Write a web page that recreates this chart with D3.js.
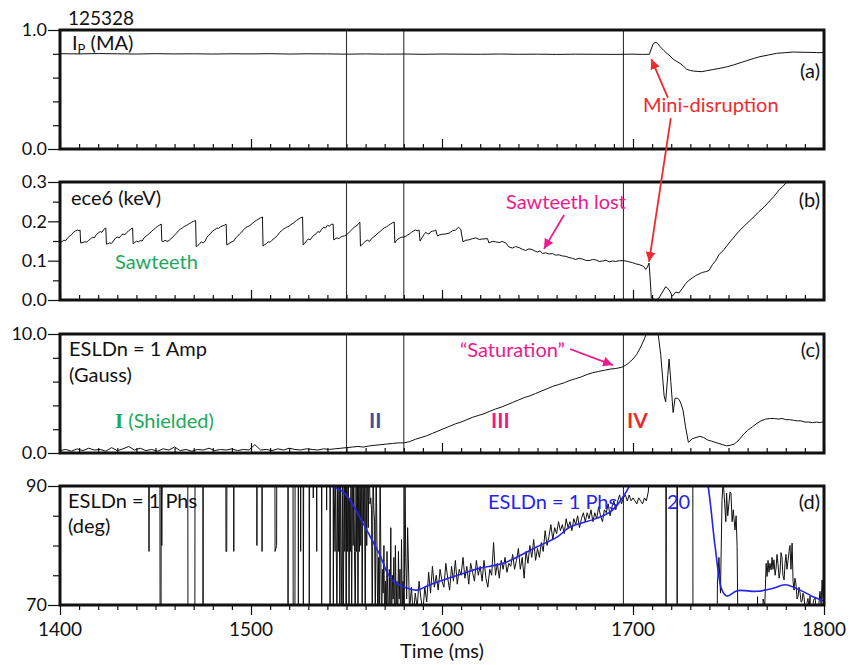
<!DOCTYPE html>
<html><head><meta charset="utf-8">
<script src="https://cdn.jsdelivr.net/npm/d3@7"></script>
<style>
body{margin:0;background:#fff}
text{font-family:Lato,"Open Sans",sans-serif;fill:#111}
</style>
</head><body>
<svg id="chart" width="856" height="665"></svg>
<script>
// ---------------- DATA ----------------
const shotNumber = "125328";
const timeDomain = [1400, 1800];
const timeTickLabels = [1400, 1500, 1600, 1700, 1800];
const eventTimes = [1550, 1580, 1695];

// (a) plasma current Ip (MA)
const ipData = [[1400,0.801],[1410,0.799],[1420,0.802],[1430,0.800],[1440,0.798],[1450,0.801],[1460,0.799],[1470,0.800],[1480,0.798],[1490,0.800],
[1500,0.799],[1510,0.801],[1520,0.798],[1530,0.800],[1540,0.799],[1550,0.797],[1560,0.799],[1570,0.797],[1580,0.798],[1590,0.796],
[1600,0.798],[1610,0.797],[1620,0.796],[1630,0.798],[1640,0.796],[1650,0.797],[1660,0.795],[1670,0.797],[1680,0.796],[1690,0.795],
[1700,0.797],[1705,0.795],[1708.6,0.796],[1709.5,0.84],[1710.7,0.888],[1712.1,0.896],[1713,0.885],[1714.2,0.86],[1716,0.83],[1717.7,0.804],
[1719.5,0.78],[1721.1,0.754],[1723,0.735],[1724.6,0.72],[1726.5,0.695],[1728.1,0.67],[1730,0.66],[1731.6,0.655],[1734,0.652],[1736,0.65],
[1738.6,0.658],[1742,0.668],[1745.6,0.678],[1749,0.69],[1752.6,0.706],[1756,0.724],[1759.5,0.742],[1763,0.76],[1766.5,0.776],[1771,0.79],
[1775.2,0.804],[1780,0.81],[1784,0.815],[1788,0.813],[1792.7,0.812],[1796,0.81],[1800,0.81]];

// (b) ece6 electron temperature (keV)
const eceData = [[1400,0.150],[1401,0.148],[1402,0.152],[1403,0.151],[1404,0.158],[1405,0.162],[1406,0.166],[1407,0.172],[1408,0.175],[1409,0.178],[1410,0.176],[1410.5,0.178],[1410.8,0.145],
[1412,0.146],[1413,0.148],[1414,0.147],[1415,0.152],[1416,0.155],[1417,0.160],[1418,0.158],[1419,0.166],[1420,0.170],[1421,0.174],[1422,0.172],[1423,0.180],[1424,0.183],[1424.3,0.142],
[1425,0.143],[1426,0.145],[1427,0.144],[1428,0.150],[1429,0.157],[1430,0.160],[1431,0.158],[1432,0.164],[1433,0.168],[1434,0.166],[1435,0.172],[1436,0.176],[1437,0.180],[1438,0.183],[1438.3,0.143],
[1439,0.145],[1440,0.150],[1441,0.148],[1442,0.151],[1443,0.150],[1444,0.158],[1445,0.162],[1446,0.166],[1447,0.170],[1448,0.175],[1449,0.179],[1450,0.183],[1451,0.187],[1452,0.190],[1453,0.193],[1453.3,0.150],
[1454,0.148],[1455,0.152],[1456,0.149],[1457,0.151],[1458,0.155],[1459,0.160],[1460,0.165],[1461,0.170],[1462,0.176],[1463,0.180],[1464,0.183],[1465,0.187],[1466,0.189],[1467,0.192],[1468,0.195],[1469,0.198],[1470,0.200],[1471,0.202],[1471.3,0.136],
[1472,0.138],[1473,0.142],[1474,0.148],[1475,0.145],[1476,0.150],[1477,0.160],[1478,0.165],[1479,0.170],[1480,0.176],[1481,0.178],[1482,0.183],[1483,0.182],[1484,0.186],[1485,0.188],[1486,0.190],[1487,0.193],[1487.3,0.140],
[1488,0.142],[1489,0.145],[1490,0.148],[1491,0.150],[1492,0.158],[1493,0.162],[1494,0.168],[1495,0.172],[1496,0.178],[1497,0.183],[1498,0.186],[1499,0.188],[1500,0.192],[1501,0.196],[1502,0.200],[1503,0.203],[1504,0.206],[1505,0.209],[1506,0.211],[1506.3,0.137],
[1507,0.140],[1508,0.143],[1509,0.148],[1510,0.147],[1511,0.152],[1512,0.156],[1513,0.160],[1514,0.165],[1515,0.172],[1516,0.176],[1517,0.180],[1518,0.183],[1519,0.186],[1520,0.188],[1521,0.192],[1522,0.195],[1523,0.199],[1524,0.203],[1525,0.206],[1526,0.209],[1527,0.211],[1527.3,0.140],
[1528,0.143],[1529,0.150],[1530,0.155],[1531,0.153],[1532,0.160],[1533,0.165],[1534,0.168],[1535,0.174],[1536,0.172],[1537,0.180],[1538,0.185],[1539,0.183],[1540,0.190],[1541,0.188],[1542,0.192],[1543,0.193],[1543.3,0.153],
[1544,0.155],[1545,0.158],[1546,0.156],[1547,0.160],[1548,0.162],[1549,0.163],[1550,0.166],[1551,0.170],[1552,0.175],[1553,0.180],[1554,0.185],[1555,0.188],[1556,0.192],[1557,0.198],[1557.3,0.137],
[1558,0.140],[1559,0.145],[1560,0.150],[1561,0.152],[1562,0.149],[1563,0.155],[1564,0.160],[1565,0.163],[1566,0.168],[1567,0.172],[1568,0.176],[1569,0.180],[1570,0.184],[1571,0.186],[1572,0.190],[1573,0.193],[1574,0.196],[1575,0.198],[1575.3,0.145],
[1576,0.150],[1577,0.155],[1578,0.158],[1579,0.160],[1580,0.160],[1581,0.162],[1582,0.165],[1583,0.168],[1584,0.172],[1585,0.175],[1586,0.178],[1587,0.176],[1588,0.178],[1588.5,0.150],
[1589.5,0.158],[1590.5,0.166],[1591.5,0.172],[1592.3,0.169],[1593.2,0.168],[1594,0.173],[1595,0.175],[1596,0.176],[1596.7,0.178],[1597.6,0.163],[1599,0.166],[1600.2,0.167],[1602,0.168],[1603.7,0.170],[1605.5,0.176],[1607.2,0.178],[1608.6,0.185],[1609.8,0.180],[1611,0.148],
[1612.5,0.152],[1614.2,0.153],[1616,0.156],[1617.7,0.158],[1619.5,0.154],[1621,0.155],[1623.8,0.156],[1624.6,0.145],[1626.3,0.149],[1628,0.148],[1630,0.146],[1631.5,0.149],[1633.4,0.145],[1635,0.135],[1636.9,0.132],[1638.5,0.136],[1640.4,0.133],[1642,0.129],[1643.8,0.126],[1645.5,0.130],
[1647.3,0.128],[1648.8,0.124],[1650,0.122],[1651.3,0.125],[1652.6,0.118],[1654.3,0.120],[1656,0.117],[1657.8,0.118],[1659.5,0.114],[1661.2,0.115],[1663,0.112],[1664.8,0.111],[1666.5,0.108],[1668.3,0.106],[1670,0.103],[1671.8,0.106],[1673.5,0.104],[1675.2,0.101],
[1677,0.100],[1678.8,0.103],[1680.5,0.102],[1682.3,0.098],[1684,0.099],[1685.8,0.101],[1687.5,0.097],[1689.3,0.099],[1691,0.098],[1692.9,0.100],[1694.8,0.100],[1696.4,0.099],[1698,0.097],[1699.7,0.095],[1701.4,0.092],[1703.2,0.090],[1704.9,0.087],[1705.8,0.084],[1706.7,0.078],[1707.5,0.083],[1708.4,0.094],[1708.9,0.060],[1709.6,0.005],
[1711.9,0.000],[1713.6,0.005],[1715.4,0.020],[1717.1,0.034],[1718.9,0.026],[1720.6,0.010],[1722.4,0.020],[1724.1,0.018],[1725.9,0.030],[1727.6,0.042],[1729.3,0.050],[1731,0.056],[1732.8,0.062],[1734.5,0.066],[1736.3,0.070],[1738,0.072],[1739.8,0.075],[1741.6,0.090],[1743.3,0.100],[1745,0.115],
[1747.6,0.128],[1750.3,0.145],[1752.9,0.160],[1755.5,0.175],[1758.2,0.188],[1760.8,0.200],[1763.4,0.212],[1766,0.225],[1768.6,0.236],[1771.2,0.250],[1773.9,0.264],[1776.5,0.280],[1778.3,0.288],[1780,0.297],[1783.4,0.310],[1790,0.330],[1800,0.350]];

// (c) ESLDn = 1 amplitude (Gauss)
const ampData = [[1400,0.2],[1403,0.3],[1406,0.15],[1409,0.35],[1412,0.2],[1415,0.4],[1418,0.25],[1421,0.3],[1424,0.15],[1427,0.45],[1430,0.2],[1433,0.35],[1436,0.55],[1439,0.25],[1442,0.4],[1445,0.2],[1448,0.3],[1451,0.15],[1454,0.35],[1457,0.25],
[1460,0.5],[1463,0.2],[1466,0.3],[1469,0.15],[1472,0.3],[1475,0.25],[1478,0.4],[1481,0.2],[1484,0.3],[1487,0.25],[1490,0.35],[1493,0.2],[1496,0.3],[1499,0.25],[1502,0.7],[1505,0.25],[1508,0.3],[1511,0.2],[1514,0.35],[1517,0.25],
[1520,0.4],[1523,0.3],[1526,0.25],[1529,0.35],[1532,0.3],[1535,0.25],[1538,0.35],[1541,0.3],[1544,0.35],[1547,0.4],[1550,0.45],[1553,0.5],[1556,0.55],[1559,0.5],[1562,0.6],[1565,0.65],[1568,0.7],[1571,0.75],[1574,0.8],[1577,0.85],
[1580,0.85],[1583,0.95],[1586,1.15],[1589,1.3],[1592,1.45],[1595,1.65],[1598,1.85],[1601,2.05],[1604,2.25],[1607,2.45],[1610,2.6],[1613,2.8],[1616,3.0],[1619,3.15],[1622,3.3],[1625,3.5],[1628,3.7],[1631,3.85],[1634,4.05],[1637,4.25],
[1640,4.45],[1643,4.65],[1646,4.8],[1649,5.0],[1652,5.2],[1655,5.4],[1658,5.6],[1661,5.75],[1664,5.9],[1667,6.1],[1670,6.25],[1673,6.4],[1676,6.6],[1679,6.75],[1682,6.85],[1685,6.95],[1688,7.05],[1691,7.1],[1694,7.2],[1696,7.35],
[1698,7.6],[1700,7.9],[1702,8.3],[1704,8.9],[1706,9.6],[1708,10.5],[1710,11.5],[1712,11.2],[1713,10.2],[1714.5,8.3],[1716.3,4.8],[1717.1,4.3],[1718.2,6.5],[1718.9,7.9],[1719.8,6.0],[1721,3.4],[1722,4.6],[1723.2,4.6],[1724.1,4.5],[1725,4.2],
[1726.2,3.6],[1727.5,2.2],[1729,0.9],[1731,1.2],[1733,1.3],[1735,1.4],[1737,1.3],[1739,1.1],[1741,1.0],[1743,0.9],[1745,0.8],[1747,0.7],[1749,0.6],[1751,0.65],[1753,0.75],[1755.5,1.1],[1758,1.6],[1760,1.9],[1762.5,2.2],[1765,2.5],
[1767,2.7],[1769.5,2.85],[1772,2.9],[1774,2.9],[1776,2.85],[1778,2.9],[1780,2.8],[1782,2.8],[1784,2.75],[1786,2.7],[1788,2.7],[1790,2.6],[1792,2.6],[1794,2.55],[1796,2.6],[1798,2.55],[1800,2.65]];

// (d) ESLDn = 1 phase (deg), raw
const phsData = [[1400,95],[1446.4,95],[1446.6,79],[1446.8,95],[1452.3,95],[1452.4,65],[1452.9,65],[1453.0,95],[1453.3,80],[1453.6,95],[1466.9,95],[1467.0,65],[1470.6,65],[1470.7,95],[1474.8,95],[1474.9,65],[1475.0,95],
[1486.8,95],[1486.9,79],[1487.3,79],[1487.4,95],[1490.9,95],[1491.0,79],[1491.1,95],[1503.0,95],[1503.1,80],[1503.2,95],[1505.7,95],[1505.8,79],[1505.9,95],[1512.5,95],[1512.6,79],[1513.4,80],[1513.5,95],
[1519.3,95],[1519.4,65],[1519.5,95],[1522.0,95],[1522.1,65],[1523.0,65],[1523.1,95],[1524.7,95],[1524.8,65],[1524.9,95],[1525.9,95],[1526.0,79],[1526.1,95],[1527.3,95],[1527.4,65],[1527.6,95],[1530.4,95],[1530.5,65],[1530.7,95],
[1532.5,95],[1532.6,88],[1532.7,95],[1534.3,95],[1534.4,79],[1534.5,95],[1536.9,95],[1537.0,65],[1537.1,95],[1539.5,95],[1539.6,86],[1539.7,95],[1541.3,95],[1541.4,65],[1541.6,95],[1543.0,95],[1543.1,65],[1543.3,95],[1544.0,79],[1544.3,95],
[1545,65],[1545.4,95],[1545.8,79],[1546.2,95],[1546.5,65],[1546.9,95],[1547.2,80],[1547.6,65],[1548,95],[1548.3,65],[1548.8,95],[1549.1,79],[1549.5,95],[1549.8,65],[1550.2,95],[1550.6,79],[1551,95],[1551.3,65],[1551.7,88],[1552,79],
[1552.4,95],[1552.7,65],[1553.1,95],[1553.5,80],[1553.8,95],[1554.2,79],[1554.6,65],[1555,95],[1555.3,79],[1555.7,95],[1556,65],[1556.4,95],[1556.8,79],[1557.1,95],[1557.5,80],[1557.9,95],[1558.2,65],[1558.6,95],[1559,84],[1559.4,95],
[1559.8,65],[1560.2,95],[1560.6,80],[1561,95],[1561.4,83],[1561.8,95],[1562.3,87],[1562.7,88],[1563.1,86],[1563.5,65],[1563.9,95],[1564.3,86],[1564.7,84],[1565.1,65],[1565.5,95],[1566,79],[1566.4,65],[1566.8,78],[1567.2,65],[1567.6,95],
[1568,77],[1568.4,65],[1568.8,76],[1569.2,72],[1569.6,80],[1570,65],[1570.4,74],[1570.8,65],[1571.2,79],[1571.6,71],[1572,65],[1572.4,76],[1572.8,69],[1573.2,83],[1573.6,65],[1574,75],[1574.4,71],[1574.8,78],[1575.2,65],[1575.6,80],
[1576,70],[1576.4,74],[1576.8,65],[1577.2,79],[1577.6,71],[1578,76],[1578.4,65],[1578.8,81],[1579.2,70],[1579.6,74],[1580.2,65],[1580.6,95],[1581,78],[1581.5,71],[1582,83],[1583,69],[1584,73],[1585,68],[1586,72],[1587,69.5],
[1588,74],[1589,71],[1590,69],[1591,73],[1592,70.5],[1593,75.5],[1594,72],[1595,76.5],[1596,73],[1597,75],[1598,72.5],[1599,76],[1600,74],[1601,73],[1602,77],[1603,74.5],[1604,72.5],[1605,76.5],[1606,74],[1607,77.5],
[1608,73.5],[1609,76],[1610,75],[1611,78],[1612,74.5],[1613,76.5],[1614,73.5],[1615,77],[1616,75.5],[1617,74],[1618,77.5],[1619,75],[1620,76.5],[1621,74],[1622,77.5],[1623,74.5],[1624,73],[1625,76],[1626,75],[1627,80.5],
[1628,75],[1629,77],[1630,74.5],[1631,77.5],[1632,76],[1633,78],[1634,75.5],[1635,77],[1636,76.5],[1637,78.5],[1638,76],[1639,77.5],[1640,79.5],[1641,76],[1642,78],[1643,74.5],[1644,79],[1645,77],[1646,80],[1647,78],
[1648,81],[1649,77.5],[1650,79.5],[1651,78],[1652,80.5],[1653,79],[1654,82.5],[1655,80],[1656,81.5],[1657,83.5],[1658,81],[1659,83],[1660,82],[1661,84],[1662,82.5],[1663,83.5],[1664,82],[1665,84.5],[1666,83],[1667,84],
[1668,82.5],[1669,84.5],[1670,83.5],[1671,85],[1672,83],[1673,84.5],[1674,85.5],[1675,84],[1676,85.5],[1677,84.5],[1678,86],[1679,84],[1680,85.5],[1681,84.5],[1682,86.5],[1683,85],[1684,84],[1685,86],[1686,85.5],[1687,87],
[1688,85],[1689,86.5],[1690,87.5],[1691,86],[1692,87.5],[1693,88.5],[1694,87],[1695,88],[1696,88.5],[1697,87.5],[1698,88.5],[1699,87.5],[1700,88],[1701,87.5],[1702,87],[1703,88],[1704,87.5],[1705,87],[1706,88],[1707,87.5],
[1708,89],[1709,93],[1710,96],[1717.2,96],[1717.3,64],[1717.5,96],[1723.0,96],[1723.1,64],[1723.3,96],[1731.3,96],[1731.4,64],[1744,64],[1744.2,73.7],[1745,78],[1745.8,72],[1746.6,87.6],[1747.2,91],[1748,87],[1748.6,84],[1749,88.8],
[1749.6,85],[1750.2,87],[1750.8,89],[1751.3,88.8],[1751.9,84],[1752.5,86],[1753.4,82.6],[1754,85],[1754.5,79.8],[1755,64],[1765,64],[1765.2,71.4],[1765.6,64],[1768,64],[1768.1,71],[1769,70],[1769.7,77],[1770.2,74.8],[1770.7,77.5],[1771.2,75.5],
[1771.7,77],[1772.3,75.9],[1772.8,78],[1773.3,76],[1773.8,77.6],[1774.4,75],[1774.9,76.2],[1775.4,78.5],[1775.9,77],[1776.5,74.5],[1777,75.5],[1777.5,78.8],[1778,78],[1778.5,75],[1779.1,74.2],[1779.6,77],[1780.1,78.5],[1780.6,76],[1781.2,77.5],[1781.7,79],
[1782.2,80],[1782.7,76],[1783.3,80.4],[1783.8,74],[1784.3,72.5],[1784.8,74.5],[1785.3,73.6],[1785.9,71],[1786.4,71.4],[1786.9,73],[1787.5,72],[1788,70.5],[1788.5,70.6],[1789,72],[1789.6,71.3],[1790.1,69],[1790.6,64],[1791.1,70.5],[1791.6,71.1],[1792.2,69.5],
[1792.7,71.5],[1793.2,64],[1793.7,68],[1794.5,70.8],[1795.3,71.2],[1796,69],[1796.9,64],[1797.4,70.5],[1797.9,72.3],[1798.5,70],[1799,74.2],[1799.5,71],[1800,70.5]];

// (d) ESLDn = 1 phase (deg), smoothed (blue)
const phsSmooth = [[1530,93],[1538,91],[1542.9,89.9],[1548.2,89],[1553.4,86.8],[1558.6,83.8],[1563.9,80.6],[1567.5,78.4],[1571.2,75.5],[1574.4,74],[1579.6,73.1],[1586.9,72.5],[1592.2,73.2],[1602.6,74.4],[1613.1,75.5],[1619.9,76.2],
[1632,77],[1649.8,79.8],[1660.2,81.4],[1667,83.1],[1681.2,84.6],[1689.5,86],[1694.8,88.2],[1698.4,90.2],[1705,97],[1720,104],[1733,100],[1739.3,90],[1743,79.8],[1746.6,72.5],[1749.2,71.5],[1754.5,72.4],[1764.9,72.3],[1773.3,72.8],[1779.6,73.4],[1787.5,72.5],[1794.3,71.4],[1799.5,70.7]];

// ---------------- LAYOUT ----------------
const X0 = 60, X1 = 824;
const panels = [
  {id:"a", top:30,  bottom:149, domain:[0,1],   labels:[0,1],           minor:[0.2,0.4,0.6,0.8], fmt:d3.format(".1f"), data:ipData},
  {id:"b", top:182, bottom:300, domain:[0,0.3], labels:[0,0.1,0.2,0.3], minor:[0.05,0.15,0.25],   fmt:d3.format(".1f"), data:eceData},
  {id:"c", top:334, bottom:453, domain:[0,10],  labels:[0,10],          minor:[2,4,6,8],          fmt:d3.format(".1f"), data:ampData},
  {id:"d", top:486, bottom:605, domain:[70,90], labels:[70,90],         minor:[75,80,85],         fmt:d3.format("d"),   data:phsData}
];
const GREEN="#1ea85a", MAGENTA="#ec1a8c", RED="#ee2a2e", NAVY="#3d4fa3", BLUE="#2424f0";
const FS = 20;

const svg = d3.select("#chart");
const x = d3.scaleLinear().domain(timeDomain).range([X0, X1]);
const minorTimes = d3.range(1410, 1800, 10).filter(t => t % 100 !== 0);
const defs = svg.append("defs");

function arrowHead(id, color){
  defs.append("marker").attr("id", id).attr("viewBox","0 0 10 10").attr("refX",10).attr("refY",5)
    .attr("markerWidth",5.5).attr("markerHeight",5.5).attr("markerUnits","strokeWidth").attr("orient","auto")
    .append("path").attr("d","M0,0 L10,5 L0,10 Z").attr("fill",color);
}
arrowHead("arRed", RED); arrowHead("arMag", MAGENTA);

panels.forEach(p => {
  p.y = d3.scaleLinear().domain(p.domain).range([p.bottom, p.top]);
  const g = svg.append("g");
  defs.append("clipPath").attr("id","clip"+p.id).append("rect")
    .attr("x",X0).attr("y",p.top).attr("width",X1-X0).attr("height",p.bottom-p.top);
  g.selectAll("line.ev").data(eventTimes).join("line").attr("class","ev")
    .attr("x1",d=>x(d)).attr("x2",d=>x(d)).attr("y1",p.top).attr("y2",p.bottom)
    .attr("stroke","#333").attr("stroke-width",1.1);
  const line = d3.line().x(d=>x(d[0])).y(d=>p.y(d[1]));
  g.append("path").datum(p.data).attr("d",line).attr("fill","none")
    .attr("stroke","#111").attr("stroke-width",1).attr("clip-path","url(#clip"+p.id+")");
  if (p.id === "d") {
    const sm = d3.line().x(d=>x(d[0])).y(d=>p.y(d[1])).curve(d3.curveCatmullRom.alpha(0.5));
    g.append("path").datum(phsSmooth).attr("d",sm).attr("fill","none")
      .attr("stroke",BLUE).attr("stroke-width",1.6).attr("clip-path","url(#clipd)");
  }
  g.append("g").attr("transform",`translate(${X0},0)`)
    .call(d3.axisLeft(p.y).tickValues(p.minor).tickSize(7).tickFormat(""))
    .call(a=>{a.select(".domain").remove(); a.selectAll("line").attr("stroke","#111").attr("stroke-width",1.2);});
  g.append("g").attr("transform",`translate(${X0},0)`)
    .call(d3.axisLeft(p.y).tickValues(p.labels).tickSize(12).tickPadding(1).tickFormat(p.fmt))
    .call(a=>{a.select(".domain").remove(); a.selectAll("line").attr("stroke","#111").attr("stroke-width",1.2);
      a.selectAll("text").attr("font-family","Lato, sans-serif").attr("font-size",18).attr("fill","#111");});
  const sgn = p.id !== "d" ? -1 : 1;
  g.append("g").attr("transform",`translate(0,${p.bottom})`)
    .call(d3.axisBottom(x).tickValues(minorTimes).tickSize(5*sgn).tickFormat(""))
    .call(a=>{a.select(".domain").remove(); a.selectAll("line").attr("stroke","#111").attr("stroke-width",1.2);});
  g.append("g").attr("transform",`translate(0,${p.bottom})`)
    .call(d3.axisBottom(x).tickValues(timeTickLabels).tickSize(10*sgn).tickFormat(""))
    .call(a=>{a.select(".domain").remove(); a.selectAll("line").attr("stroke","#111").attr("stroke-width",1.2);});
  g.append("rect").attr("x",X0).attr("y",p.top).attr("width",X1-X0).attr("height",p.bottom-p.top)
    .attr("fill","none").attr("stroke","#111").attr("stroke-width",3);
  g.append("text").attr("x",820).attr("y",{a:78,b:207,c:357,d:509}[p.id])
    .attr("text-anchor","end").attr("font-size",FS).text(`(${p.id})`);
});

const [pa, pb, pc, pd] = panels;

svg.selectAll("text.xt").data(timeTickLabels).join("text").attr("class","xt")
  .attr("x",d=>x(d)).attr("y",636).attr("text-anchor","middle").attr("font-size",19).text(d=>d);
svg.append("text").attr("x",442).attr("y",658).attr("text-anchor","middle").attr("font-size",FS).text("Time (ms)");

function txt(xp, yp, s, opt={}) {
  return svg.append("text").attr("x",xp).attr("y",yp).attr("font-size",opt.size||FS)
    .attr("font-family",opt.family||null).attr("font-weight",opt.weight||null)
    .attr("text-anchor",opt.anchor||"start").style("fill",opt.fill||"#111").text(s);
}
txt(68, 25, shotNumber, {size:19});
const ip = txt(72, 50, "I");
ip.append("tspan").attr("font-size",13).attr("dy",4).text("P");
ip.append("tspan").attr("dy",-4).text(" (MA)");
txt(71, 205, "ece6 (keV)");
txt(115, 269, "Sawteeth", {fill:GREEN});
txt(506, 209, "Sawteeth lost", {fill:MAGENTA});
txt(643, 112, "Mini-disruption", {fill:RED});
txt(69, 356, "ESLDn = 1 Amp");
txt(69, 382, "(Gauss)");
const sh = svg.append("text").attr("x",115).attr("y",428).attr("font-size",FS).style("fill",GREEN);
sh.append("tspan").attr("font-family","'Liberation Serif', serif").attr("font-weight","bold").attr("font-size",21).text("I");
sh.append("tspan").text(" (Shielded)");
txt(369, 428, "II", {family:"'Liberation Serif', serif", weight:"bold", size:21, fill:NAVY});
txt(491, 428, "III", {family:"'Liberation Serif', serif", weight:"bold", size:21, fill:MAGENTA});
txt(627, 428, "IV", {family:"'Liberation Serif', serif", weight:"bold", size:21, fill:RED});
txt(460, 357, "\u201CSaturation\u201D", {fill:MAGENTA});
txt(68, 508, "ESLDn = 1 Phs");
txt(68, 533, "(deg)");
txt(488, 509, "ESLDn = 1 Phs", {fill:BLUE});
txt(667, 509, "20", {fill:BLUE});

function arrow(p1, s1, p2, s2, color, id){
  svg.append("line").attr("x1",x(p1[0])).attr("y1",s1(p1[1])).attr("x2",x(p2[0])).attr("y2",s2(p2[1]))
    .attr("stroke",color).attr("stroke-width",1.8).attr("marker-end",`url(#${id})`);
}
arrow([1718.3,0.43], pa.y, [1709.6,0.755], pa.y, RED, "arRed");
arrow([1719.8,0.26], pa.y, [1708.4,0.097], pb.y, RED, "arRed");
arrow([1663.9,0.216], pb.y, [1653.4,0.13], pb.y, MAGENTA, "arMag");
arrow([1667,8.74], pc.y, [1689.5,7.39], pc.y, MAGENTA, "arMag");
</script>
</body></html>
